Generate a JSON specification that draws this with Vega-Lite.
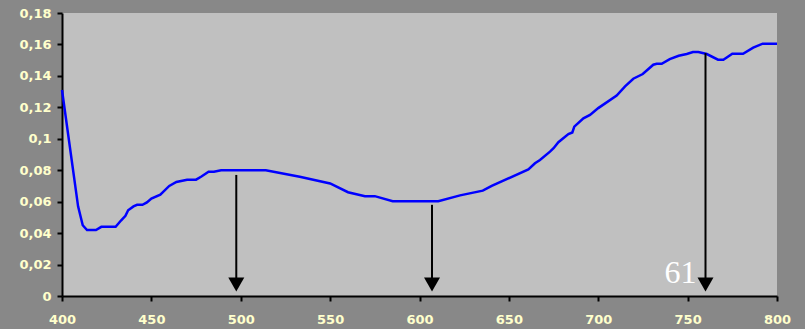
{
  "$schema": "https://vega.github.io/schema/vega-lite/v6.json",
  "width": 715,
  "height": 283,
  "autosize": {"type": "none"},
  "padding": {"left": 62, "top": 13, "right": 28, "bottom": 33},
  "background": "#888888",
  "datasets": {
    "spectrum": [
      {"wl": 400, "abs": 0.131},
      {"wl": 409, "abs": 0.057},
      {"wl": 411.6, "abs": 0.045},
      {"wl": 414, "abs": 0.042},
      {"wl": 419, "abs": 0.042},
      {"wl": 422, "abs": 0.044},
      {"wl": 430, "abs": 0.044},
      {"wl": 433, "abs": 0.048},
      {"wl": 435.5, "abs": 0.051},
      {"wl": 437, "abs": 0.0545},
      {"wl": 440, "abs": 0.057},
      {"wl": 442, "abs": 0.058},
      {"wl": 445, "abs": 0.058},
      {"wl": 447.5, "abs": 0.0595},
      {"wl": 450, "abs": 0.062},
      {"wl": 455, "abs": 0.0645},
      {"wl": 460, "abs": 0.07},
      {"wl": 464, "abs": 0.0725},
      {"wl": 470, "abs": 0.074},
      {"wl": 475, "abs": 0.074},
      {"wl": 478, "abs": 0.076},
      {"wl": 482, "abs": 0.079},
      {"wl": 485, "abs": 0.079},
      {"wl": 489, "abs": 0.08},
      {"wl": 514, "abs": 0.08},
      {"wl": 533, "abs": 0.0758},
      {"wl": 550, "abs": 0.0716},
      {"wl": 560, "abs": 0.066},
      {"wl": 569.5, "abs": 0.0635},
      {"wl": 575, "abs": 0.0635},
      {"wl": 585, "abs": 0.0603},
      {"wl": 610.5, "abs": 0.0603},
      {"wl": 622.7, "abs": 0.064},
      {"wl": 635.4, "abs": 0.067},
      {"wl": 640.4, "abs": 0.07},
      {"wl": 660.9, "abs": 0.0805},
      {"wl": 664.6, "abs": 0.0844},
      {"wl": 667.4, "abs": 0.0865},
      {"wl": 673, "abs": 0.0918},
      {"wl": 675, "abs": 0.094},
      {"wl": 677.7, "abs": 0.0978},
      {"wl": 683.3, "abs": 0.103},
      {"wl": 685.5, "abs": 0.104},
      {"wl": 686.6, "abs": 0.1077},
      {"wl": 691.7, "abs": 0.113},
      {"wl": 695.4, "abs": 0.1152},
      {"wl": 700, "abs": 0.1195},
      {"wl": 710.3, "abs": 0.1275},
      {"wl": 715, "abs": 0.1333},
      {"wl": 719.6, "abs": 0.1382},
      {"wl": 724.9, "abs": 0.1412},
      {"wl": 730.8, "abs": 0.1471},
      {"wl": 732.7, "abs": 0.1477},
      {"wl": 735.5, "abs": 0.1477},
      {"wl": 740, "abs": 0.1507},
      {"wl": 745, "abs": 0.1528},
      {"wl": 749.5, "abs": 0.1539},
      {"wl": 753, "abs": 0.1552},
      {"wl": 756, "abs": 0.1552},
      {"wl": 760.7, "abs": 0.1539},
      {"wl": 767, "abs": 0.1503},
      {"wl": 770, "abs": 0.1503},
      {"wl": 775, "abs": 0.1541},
      {"wl": 781, "abs": 0.1541},
      {"wl": 786.7, "abs": 0.158},
      {"wl": 792, "abs": 0.1605},
      {"wl": 800, "abs": 0.1605}
    ],
    "arrows": [
      {"wl": 497.5, "abs": 0.077},
      {"wl": 607, "abs": 0.058},
      {"wl": 760, "abs": 0.1545}
    ],
    "note": [
      {"wl": 746, "abs": 0.0081, "label": "61"}
    ]
  },
  "encoding": {
    "x": {
      "field": "wl",
      "type": "quantitative",
      "scale": {"domain": [400, 800], "nice": false, "zero": false},
      "axis": {
        "values": [400, 450, 500, 550, 600, 650, 700, 750, 800],
        "title": null,
        "labelFlush": false,
        "labelOverlap": false,
        "labelPadding": 12
      }
    },
    "y": {
      "field": "abs",
      "type": "quantitative",
      "scale": {"domain": [0, 0.18], "nice": false},
      "axis": {
        "values": [0, 0.02, 0.04, 0.06, 0.08, 0.1, 0.12, 0.14, 0.16, 0.18],
        "labelExpr": "replace(format(datum.value, '~g'), '.', ',')",
        "title": null,
        "labelFlush": false,
        "labelOverlap": false,
        "labelPadding": 6
      }
    }
  },
  "layer": [
    {
      "data": {"name": "spectrum"},
      "mark": {"type": "line", "color": "#0000ff", "strokeWidth": 2.5}
    },
    {
      "data": {"name": "arrows"},
      "mark": {"type": "rule", "color": "#000000", "strokeWidth": 2},
      "encoding": {
        "y2": {"datum": 0.01}
      }
    },
    {
      "data": {"name": "arrows"},
      "mark": {"type": "point", "shape": "triangle-down", "filled": true, "color": "#000000", "opacity": 1, "size": 256, "yOffset": -11.5},
      "encoding": {
        "y": {"datum": 0, "type": "quantitative"}
      }
    },
    {
      "data": {"name": "note"},
      "mark": {"type": "text", "font": "Liberation Serif", "fontSize": 32, "color": "#ffffff", "align": "center", "baseline": "alphabetic"},
      "encoding": {
        "text": {"field": "label"}
      }
    }
  ],
  "config": {
    "view": {"fill": "#c0c0c0", "stroke": null},
    "axis": {
      "grid": false,
      "domainColor": "#000000",
      "domainWidth": 2,
      "tickColor": "#000000",
      "tickWidth": 2,
      "tickSize": 5,
      "labelColor": "#ffffcc",
      "labelFont": "DejaVu Sans",
      "labelFontSize": 13,
      "labelFontWeight": "bold"
    }
  }
}
